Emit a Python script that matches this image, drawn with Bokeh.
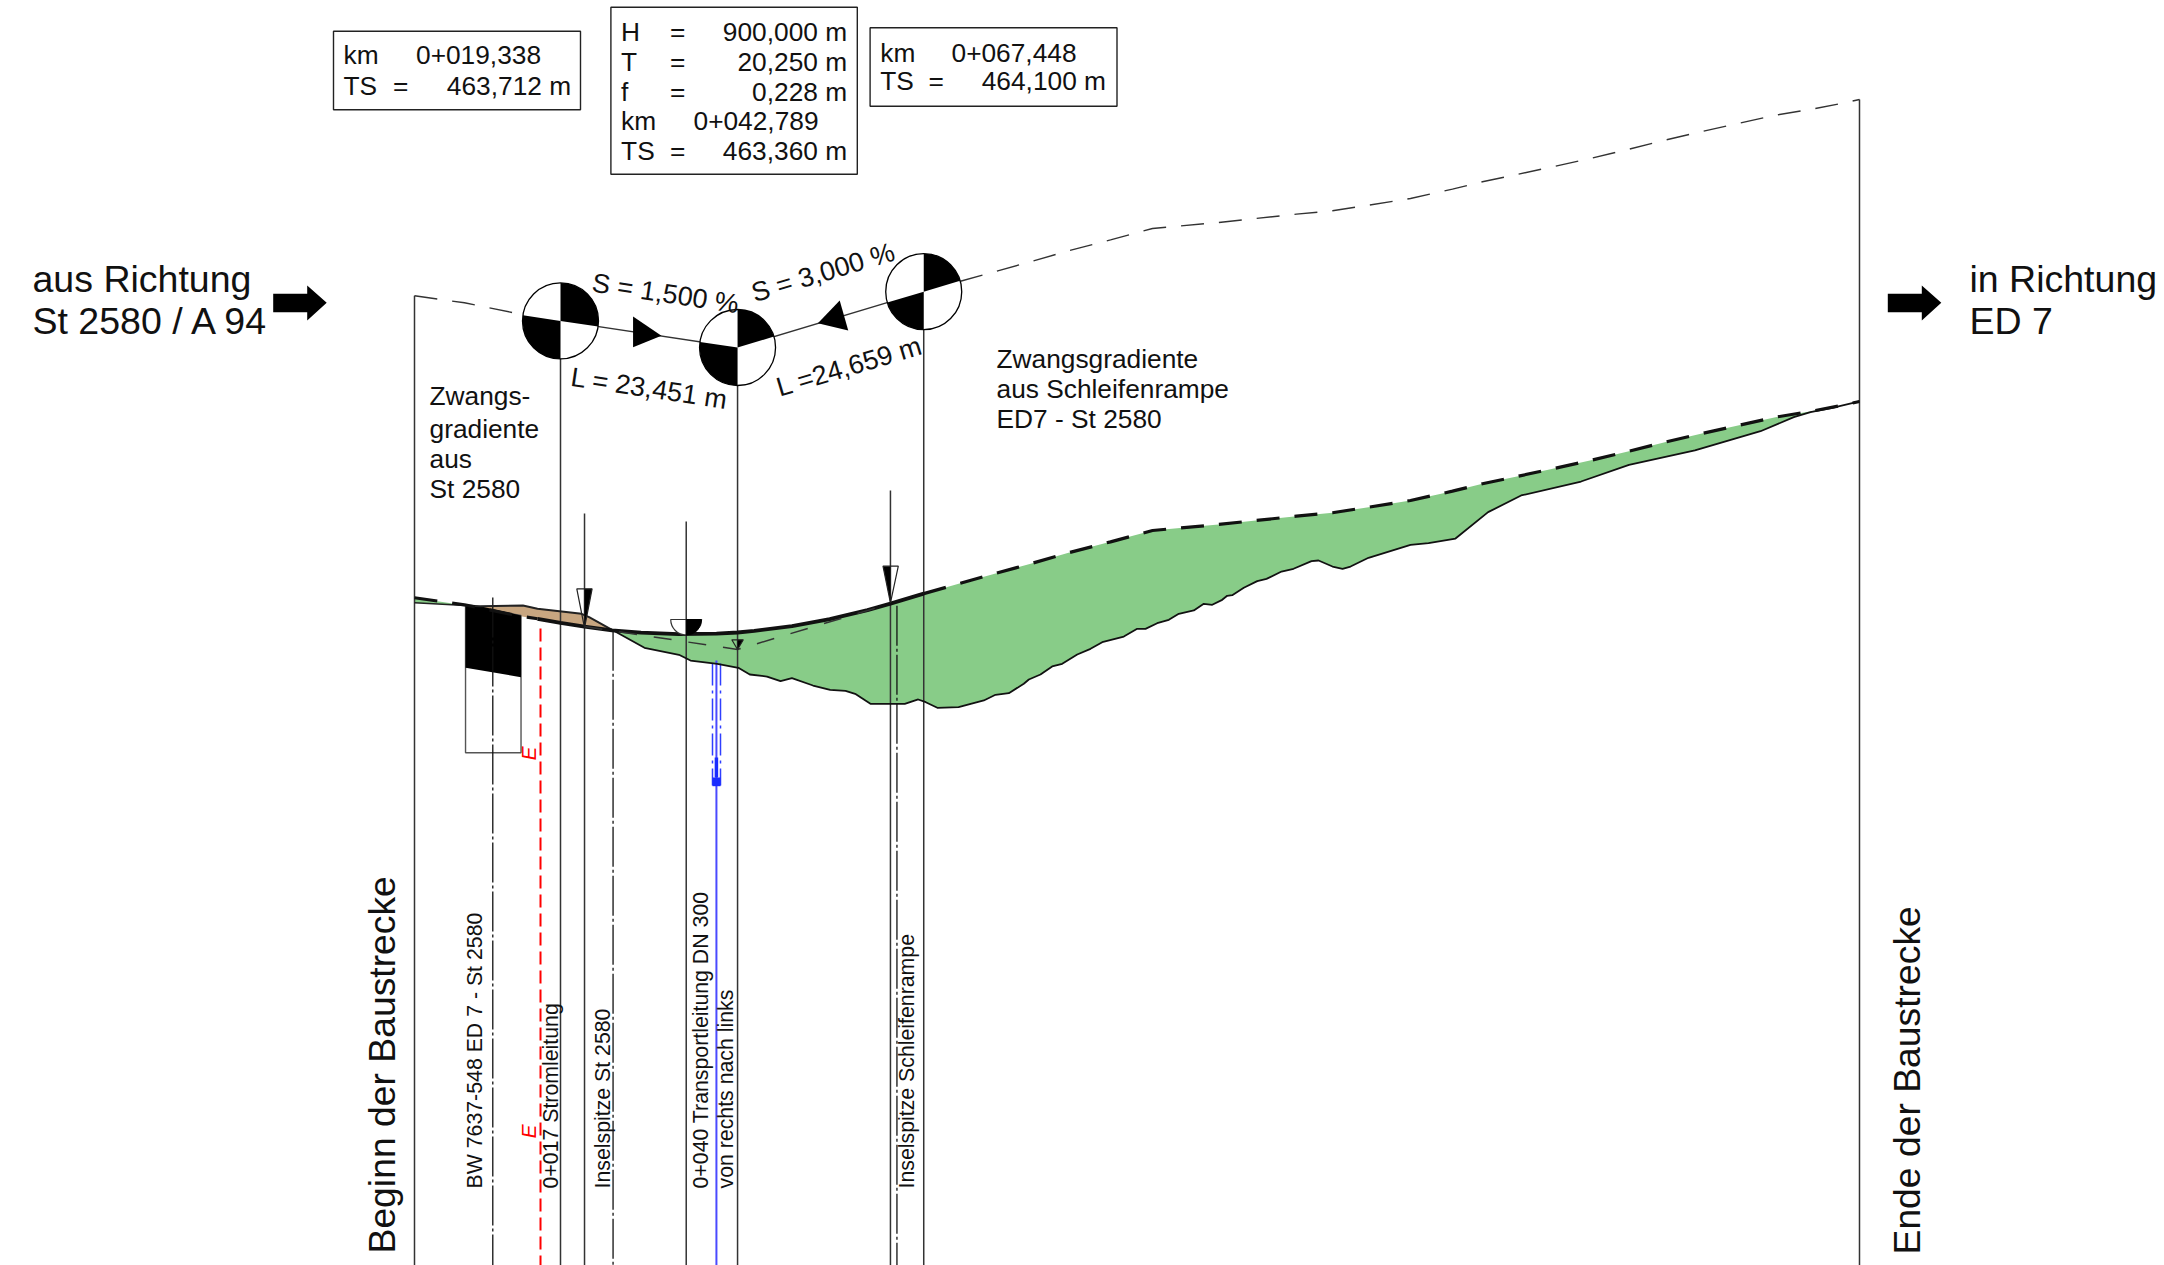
from bokeh.plotting import figure
from bokeh.models import Range1d
from bokeh.core.properties import value
from bokeh.embed import file_html
from bokeh.resources import INLINE
import math

# ---------- data (station in m, elevation in m) ----------
road_left_s = [0.0, 6.62, 14.25, 16.3]
road_left_e = [464.045, 463.952, 463.797, 463.767]
road_mid_s = [16.3, 19.338, 22.52, 26.16, 30.0, 35.0, 40.0, 42.789, 45.0, 50.0, 55.0, 60.0, 63.04, 67.448]
road_mid_e = [463.767, 463.712, 463.664, 463.612, 463.583, 463.563, 463.571, 463.585, 463.607, 463.671, 463.762, 463.882, 463.967, 464.100]
road_right_s = [67.448, 72.3, 77.09, 81.85, 86.62, 92.19, 97.75, 106.49, 116.82, 121.59, 126.36, 131.92, 137.48, 141.45,
                146.17, 150.92, 155.69, 160.86, 165.61, 170.38, 175.15, 180.26, 185.03, 189.0, 191.39]
road_right_e = [464.100, 464.238, 464.371, 464.503, 464.641, 464.786, 464.936, 465.016, 465.126, 465.171, 465.245, 465.334,
                465.457, 465.555, 465.655, 465.757, 465.863, 465.986, 466.106, 466.217, 466.323, 466.437, 466.516, 466.592, 466.645]

ground_s = [26.16, 27.95, 30.46, 35.03, 36.56, 40.11, 42.89, 44.41, 46.69, 48.48, 49.99, 52.78, 55.06, 57.09, 58.36, 60.39,
            61.90, 64.94, 66.72, 67.72, 69.25, 72.06, 75.41, 76.95, 78.72, 80.70, 81.37, 82.91, 84.46, 85.79, 87.78, 89.54,
            91.09, 93.95, 95.72, 96.82, 98.37, 99.91, 101.23, 103.22, 104.54, 105.66, 106.98, 107.64, 108.31, 109.84, 111.62,
            112.85, 114.84, 116.43, 118.81, 119.74, 121.59, 122.92, 123.98, 126.36,
            131.92, 134.31, 137.88, 142.20, 146.57, 154.51, 160.86, 169.59, 178.28, 182.69, 184.9, 187.78, 191.39]
ground_e = [463.621, 463.523, 463.383, 463.290, 463.214, 463.171, 463.118, 463.029, 463.002, 462.940, 462.980, 462.883,
            462.826, 462.813, 462.773, 462.641, 462.641, 462.641, 462.698, 462.662, 462.588, 462.596, 462.685, 462.760,
            462.781, 462.906, 462.963, 463.029, 463.135, 463.171, 463.294, 463.369, 463.457, 463.532, 463.634, 463.634,
            463.708, 463.753, 463.833, 463.877, 463.965, 463.952, 464.018, 464.071, 464.079, 464.177, 464.265,
            464.296, 464.393, 464.429, 464.530, 464.539, 464.459, 464.429, 464.459, 464.575, 464.747, 464.768,
            464.830, 465.179, 465.400, 465.585, 465.806, 465.996, 466.251, 466.437, 466.503, 466.56, 466.645]

fill_top_s = [8.68, 14.36, 16.29, 22.12, 23.13, 26.16]
fill_top_e = [463.934, 463.943, 463.899, 463.833, 463.788, 463.621]
fill_bot_s = [26.16, 22.52, 19.338, 14.25, 8.68]
fill_bot_e = [463.612, 463.664, 463.712, 463.797, 463.91]

sliver_s = [0.0, 6.76, 0.0]
sliver_e = [464.045, 463.943, 463.979]

bridge_s = [6.76, 8.87, 14.11, 14.11, 6.76]
bridge_e = [463.943, 463.93, 463.81, 462.993, 463.118]
bridge_box_s = [6.76, 6.76, 14.11, 14.11]
bridge_box_e = [463.943, 461.992, 461.992, 463.81]

pi_s = [19.338, 42.789, 67.448]
pi_e = [463.712, 463.360, 464.100]
tangent_s = [22.52, 42.789, 63.04]
tangent_e = [463.664, 463.360, 463.967]
GRAD_OFFSET = 4.0

vert_s = [0.0, 19.338, 22.52, 35.99, 42.789, 63.04, 67.448, 191.39]
vert_top = [468.045, 467.712, 465.161, 465.055, 467.36, 465.466, 468.1, 470.645]
axis_s = [10.37, 26.3, 63.9]
axis_top = [464.05, 463.61, 463.94]
power_s = 16.69
pipe_s = 39.99
pipe_side_s = [39.47, 40.53]

# ---------- drawing ----------
PX_X = 7.55
PX_Y = 75.5
W, H = 2164, 1265
x0 = 19.338 + (0 - 560) / PX_X
y1 = 463.36 + (649 - 0) / PX_Y
p = figure(width=W, height=H, output_backend="svg", toolbar_location=None,
           x_range=Range1d(x0, x0 + W / PX_X), y_range=Range1d(y1 - H / PX_Y, y1),
           min_border=0, min_border_left=0, min_border_right=0, min_border_top=0, min_border_bottom=0)
p.xaxis.visible = False
p.yaxis.visible = False
p.grid.visible = False
p.outline_line_color = None
p.background_fill_color = "white"


def X(px):
    return 19.338 + (px - 560) / PX_X


def Y(py):
    return 463.36 + (649 - py) / PX_Y


FONT = value("Liberation Sans")
BOT = y1 - H / PX_Y
DARK = "#333333"


def label(px, py, txt, size=26.3, align="left", angle=0.0, color="#111111", baseline="middle", style="normal"):
    p.text([X(px)], [Y(py)], text=[txt], text_font=FONT, text_font_size=f"{size}px", text_align=align,
           text_baseline=baseline, angle=math.radians(angle), text_color=color, text_font_style=style)


# fills
top_s = road_mid_s[3:] + road_right_s[1:]
top_e = road_mid_e[3:] + road_right_e[1:]
p.patch(top_s + ground_s[::-1], top_e + ground_e[::-1], fill_color="#88CC88", line_color=None)
p.patch(sliver_s, sliver_e, fill_color="#88CC88", line_color=None)
p.patch(fill_top_s + fill_bot_s, fill_top_e + fill_bot_e, fill_color="#C8A680", line_color=None)

# bridge
p.line(bridge_box_s + [bridge_box_s[0]], bridge_box_e + [bridge_box_e[0]], line_color="#555555", line_width=1.4)
p.patch(bridge_s, bridge_e, fill_color="black", line_color=None)

# verticals
for s, t in zip(vert_s, vert_top):
    p.line([s, s], [t, BOT], line_color=DARK, line_width=1.5)
for s, t in zip(axis_s, axis_top):
    p.line([s, s], [t, BOT], line_color="#111111", line_width=1.3, line_dash="40 3 3 3")
p.line([power_s, power_s], [Y(628), BOT], line_color="#FF0000", line_width=2, line_dash="13 6")

# pipe
p.line([pipe_s, pipe_s], [Y(660), BOT], line_color="#4a4aff", line_width=2)
for s in pipe_side_s:
    p.line([s, s], [Y(663), Y(785)], line_color="#2f3fff", line_width=1.5, line_dash="22 5 3 5")
p.line([pipe_s, pipe_s], [Y(757), Y(777)], line_color="#1a2cff", line_width=3.5)
p.quad(left=[pipe_side_s[0]], right=[pipe_side_s[1]], top=[Y(777)], bottom=[Y(785.7)], fill_color="#1a2cff", line_color=None)

# terrain and road lines
p.line([6.76, 8.68] + fill_top_s[1:], [463.943, 463.934] + fill_top_e[1:], line_color="#222222", line_width=2)
p.line([0.0, 6.76], [463.979, 463.943], line_color="#222222", line_width=1.3)
p.line(ground_s, ground_e, line_color="#111111", line_width=1.8)
p.line(road_left_s, road_left_e, line_color="#111111", line_width=3.2, line_dash="23 15")
p.line(road_mid_s, road_mid_e, line_color="#111111", line_width=3.8)
p.line(road_right_s, road_right_e, line_color="#111111", line_width=3.2, line_dash="23 15")
p.line(tangent_s, tangent_e, line_color="#333333", line_width=1.5, line_dash="18 17")

# gradient (copy of the road lifted by GRAD_OFFSET)
p.line(road_left_s[:3] + pi_s[:1], [e + GRAD_OFFSET for e in road_left_e[:3] + pi_e[:1]], line_color=DARK, line_width=1.4, line_dash="23 15")
p.line(pi_s, [e + GRAD_OFFSET for e in pi_e], line_color=DARK, line_width=1.4)
p.line(road_right_s, [e + GRAD_OFFSET for e in road_right_e], line_color=DARK, line_width=1.4, line_dash="23 15")

# gradient circles
ang_left = [171.5, 171.5, 196.7]
ang_right = [-8.5, 16.7, 16.7]
for s, e, al, ar in zip(pi_s, pi_e, ang_left, ang_right):
    ey = e + GRAD_OFFSET
    p.scatter([s], [ey], size=76, marker="circle", fill_color="white", line_color="black", line_width=1.3)
    p.wedge([s], [ey], radius=38, radius_units="screen", start_angle=math.radians(ar), end_angle=math.radians(90),
            fill_color="black", line_color=None)
    p.wedge([s], [ey], radius=38, radius_units="screen", start_angle=math.radians(al), end_angle=math.radians(270),
            fill_color="black", line_color=None)

# arrows on gradient
p.patch([28.95, 28.95, 32.71], [467.771, 467.364, 467.515], fill_color="black", line_color=None)
p.patch([56.32, 57.45, 53.43], [467.983, 467.585, 467.682], fill_color="black", line_color=None)


# road markers
def half_marker(s, px_l, px_r, py_top, py_tip, black_left):
    xl, xr, xm = X(px_l), X(px_r), s
    yt, ytip = Y(py_top), Y(py_tip)
    if black_left:
        p.patch([xl, xm, xm], [yt, yt, ytip], fill_color="black", line_color=None)
    else:
        p.patch([xr, xm, xm], [yt, yt, ytip], fill_color="black", line_color=None)
    p.patch([xl, xr, xm], [yt, yt, ytip], fill_color=None, line_color="#222222", line_width=1.2)


half_marker(22.52, 576.3, 591.6, 588.3, 627.3, False)
half_marker(63.04, 882.5, 897.8, 565.7, 602.3, True)
half_marker(42.789, 731.3, 742.8, 639.3, 649, False)
p.wedge([35.99], [Y(619)], radius=15.5, radius_units="screen", start_angle=math.radians(180), end_angle=math.radians(270),
        fill_color="white", line_color="#333333", line_width=1.2)
p.wedge([35.99], [Y(619)], radius=15.5, radius_units="screen", start_angle=math.radians(270), end_angle=math.radians(360),
        fill_color="black", line_color="black", line_width=1)

# block arrows
for px in (272.7, 1887.3):
    xs = [px, px + 34, px + 34, px + 53.5, px + 34, px + 34, px]
    ys = [293.3, 293.3, 285, 302.3, 320, 311.7, 311.7]
    p.patch([X(a) for a in xs], [Y(b) for b in ys], fill_color="black", line_color=None)

# boxes
for l, r, t, b in [(333, 580, 30.7, 109.3), (610.4, 856.8, 6.7, 173.7), (869.6, 1116.5, 27.3, 105.7)]:
    p.quad(left=[X(l)], right=[X(r)], top=[Y(t)], bottom=[Y(b)], fill_color="white", line_color="#222222", line_width=1.4)

label(343, 54, "km")
label(415.5, 54, "0+019,338")
label(343, 85.5, "TS")
label(392.6, 85.5, "=")
label(570.6, 85.5, "463,712 m", align="right")

lines2 = [(31.7, "H", "900,000 m"), (61.4, "T", "20,250 m"), (91.0, "f", "0,228 m"), (150.4, "TS", "463,360 m")]
for y, a, v in lines2:
    label(620.6, y, a)
    label(669.6, y, "=")
    label(846.6, y, v, align="right")
label(620.6, 120.7, "km")
label(693, 120.7, "0+042,789")

label(879.8, 52.3, "km")
label(951, 52.3, "0+067,448")
label(879.8, 80.7, "TS")
label(928, 80.7, "=")
label(1105.5, 80.7, "464,100 m", align="right")

# headings
label(32, 278, "aus Richtung", size=37.5)
label(32, 320, "St 2580 / A 94", size=37.5)
label(1969, 278, "in Richtung", size=37.5)
label(1969, 320, "ED 7", size=37.5)

for y, t in zip((395.5, 428, 458, 488), ("Zwangs-", "gradiente", "aus", "St 2580")):
    label(429, y, t)
for y, t in zip((358, 388, 418.5), ("Zwangsgradiente", "aus Schleifenrampe", "ED7 - St 2580")):
    label(996, y, t)

label(665, 293, "S = 1,500 %", size=27, align="center", angle=-8.5)
label(649, 388, "L = 23,451 m", size=27, align="center", angle=-8.5)
label(822.5, 272, "S = 3,000 %", size=27, align="center", angle=16.7)
label(849, 366, "L =24,659 m", size=27, align="center", angle=16.7)

# vertical labels
label(381, 1253, "Beginn der Baustrecke", size=37.3, angle=90, baseline="alphabetic")
label(1906, 1254, "Ende der Baustrecke", size=37.3, angle=90, baseline="alphabetic")
label(474.5, 1188, "BW 7637-548 ED 7 - St 2580", size=21.3, angle=90, baseline="alphabetic")
label(550.5, 1188, "0+017 Stromleitung", size=21.3, angle=90, baseline="alphabetic")
label(602.5, 1188, "Inselspitze St 2580", size=21.3, angle=90, baseline="alphabetic")
label(700.5, 1188, "0+040 Transportleitung DN 300", size=21.3, angle=90, baseline="alphabetic")
label(725, 1188, "von rechts nach links", size=21.3, angle=90, baseline="alphabetic")
label(906.5, 1188, "Inselspitze Schleifenrampe", size=21.3, angle=90, baseline="alphabetic")
label(528, 760, "E", size=21, angle=90, color="#FF0000", baseline="alphabetic", style="italic")
label(528, 1138, "E", size=21, angle=90, color="#FF0000", baseline="alphabetic", style="italic")

open("out.html", "w").write(file_html(p, INLINE))
